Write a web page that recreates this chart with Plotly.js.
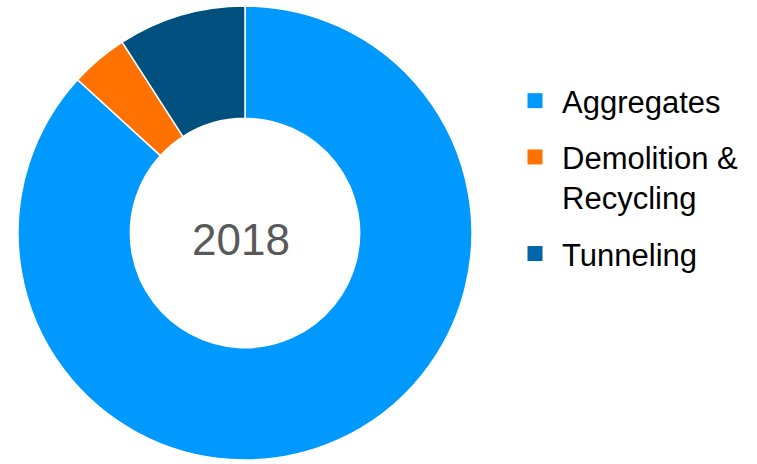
<!DOCTYPE html>
<html>
<head>
<meta charset="utf-8">
<script src="https://cdn.plot.ly/plotly-3.0.1.min.js"></script>
<style>html,body{margin:0;padding:0;background:#fff;}#chart{width:757px;height:464px;}</style>
</head>
<body>
<div id="chart"></div>
<script>
const categories = ["Aggregates", "Demolition &<br>Recycling", "Tunneling"];
const shares = [86.8, 4.1, 9.1];
const sliceColors = ["#0099FF", "#FF7100", "#00507F"];
const legendColors = ["#0099FF", "#FF7100", "#0066A8"];
const centerLabel = "2018";

const FONT = "Liberation Sans, Arial, sans-serif";

const pie = {
  type: "pie",
  labels: categories,
  values: shares,
  sort: false,
  direction: "clockwise",
  rotation: 0,
  hole: 0.505,
  textinfo: "none",
  hoverinfo: "label+percent",
  showlegend: false,
  marker: { colors: sliceColors, line: { color: "#ffffff", width: 1.5 } },
  domain: { x: [18/757, 472/757], y: [4/464, 458/464] }
};

// legend entries (one per category), built from the same arrays
const legendEntries = categories.map((name, i) => ({
  type: "scatter",
  mode: "markers",
  x: [null], y: [null],
  name: name,
  legendgroup: "g" + i,
  showlegend: true,
  hoverinfo: "skip",
  marker: { symbol: "square", size: 15, color: legendColors[i], line: { width: 0 } }
}));

const layout = {
  width: 757,
  height: 464,
  margin: { l: 0, r: 0, t: 0, b: 0 },
  paper_bgcolor: "#ffffff",
  plot_bgcolor: "rgba(0,0,0,0)",
  xaxis: { visible: false, showgrid: false, zeroline: false },
  yaxis: { visible: false, showgrid: false, zeroline: false },
  showlegend: true,
  legend: {
    x: 508/757, xanchor: "left",
    y: 1 - 74/464, yanchor: "top",
    font: { family: FONT, size: 31, color: "#000000" },
    bgcolor: "rgba(0,0,0,0)",
    traceorder: "grouped",
    tracegroupgap: 13,
    itemwidth: 44,
    valign: "top"
  },
  annotations: [{
    text: centerLabel,
    xref: "paper", yref: "paper",
    x: 241/757, y: 1 - 239/464,
    xanchor: "center", yanchor: "middle",
    showarrow: false,
    font: { family: FONT, size: 44, color: "#595959" }
  }]
};

Plotly.newPlot("chart", [pie].concat(legendEntries), layout, { displayModeBar: false, staticPlot: true });
</script>
</body>
</html>
